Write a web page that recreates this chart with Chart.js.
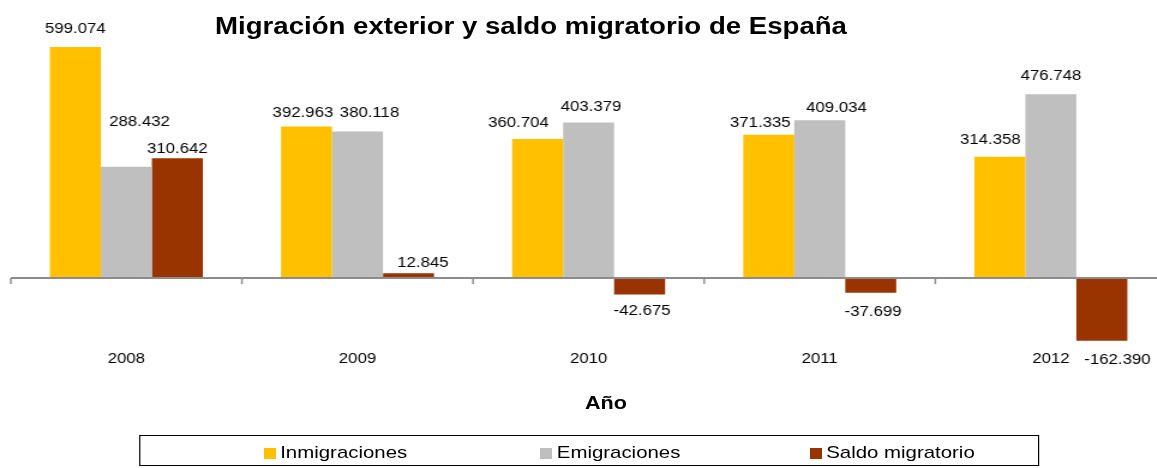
<!DOCTYPE html>
<html lang="es">
<head>
<meta charset="utf-8">
<title>Migración exterior y saldo migratorio de España</title>
<script src="https://cdn.jsdelivr.net/npm/chart.js@4"></script>
<style>
  html, body { margin: 0; padding: 0; background: #fff; overflow: hidden; }
  /* el original está estirado en horizontal, así que todo se dibuja en un
     escenario más estrecho y se estira con scaleX */
  #stage {
    position: relative; width: 972px; height: 468px;
    transform: scaleX(1.2); transform-origin: 0 0;
    font-family: "Liberation Sans", Arial, sans-serif; color: #000;
  }
  #chart { position: absolute; left: 0; top: 0; }
  #title {
    position: absolute; left: 0; width: 885px; top: 12px;
    text-align: center; font-weight: bold; font-size: 23px; line-height: 28px;
  }
  #axis-title {
    position: absolute; left: 0; width: 1010px; top: 392px;
    text-align: center; font-weight: bold; font-size: 18px; line-height: 22px;
  }
  #legend {
    position: absolute; left: 116px; top: 435px; width: 750px; height: 31px;
    border: 1.5px solid #000; box-sizing: border-box;
  }
  .leg-item {
    position: absolute; top: 7px; height: 20px; white-space: nowrap;
    font-size: 17px; line-height: 20px;
  }
  .leg-item i {
    display: inline-block; width: 10px; height: 11px; margin-right: 4px;
    vertical-align: -1px;
  }
</style>
</head>
<body>
<div id="stage">
  <canvas id="chart" width="972" height="378"></canvas>
  <div id="title">Migración exterior y saldo migratorio de España</div>
  <div id="axis-title">Año</div>
  <div id="legend"></div>
</div>
<script>
/* ── Datos ───────────────────────────────────────────────── */

const years = ['2008', '2009', '2010', '2011', '2012'];
const inmigraciones = [599074, 392963, 360704, 371335, 314358];
const emigraciones = [288432, 380118, 403379, 409034, 476748];
const saldoMigratorio = [310642, 12845, -42675, -37699, -162390];

const seriesNames = ['Inmigraciones', 'Emigraciones', 'Saldo migratorio'];
const seriesColors = ['#FFC000', '#BFBFBF', '#993300'];

// ajustes a mano de las etiquetas de valor [dx, dy], como en el original
const labelNudges = [
  [[0, -4], [-3, 1], [-16, -2], [-7, 2], [-8, -3]],
  [[11, -31], [10, -4], [2, -1], [14, 2], [0, -4]],
  [[0, 5], [12, 4], [2, -1], [2, 1], [13, 1]],
];

/* ── Helpers ─────────────────────────────────────────────── */

function formatEs(v) {
  const s = String(Math.abs(v)).replace(/\B(?=(\d{3})+(?!\d))/g, '.');
  return (v < 0 ? '-' : '') + s;
}

const FONT = '"Liberation Sans", Arial, sans-serif';

/* ── Plugins ─────────────────────────────────────────────── */

// eje en el cero con marcas entre categorías
const zeroAxis = {
  id: 'zeroAxis',
  afterDatasetsDraw(chart) {
    const { ctx, chartArea, scales: { x, y } } = chart;
    const y0 = y.getPixelForValue(0);
    ctx.save();
    ctx.strokeStyle = '#8C8C8C';
    ctx.lineWidth = 2;
    ctx.beginPath();
    ctx.moveTo(chartArea.left, y0);
    ctx.lineTo(chartArea.right, y0);
    ctx.stroke();
    ctx.lineWidth = 1.5;
    for (let i = 0; i <= years.length; i++) {
      const xp = x.getPixelForValue(i - 0.5);
      ctx.beginPath();
      ctx.moveTo(xp, y0);
      ctx.lineTo(xp, y0 + 6);
      ctx.stroke();
    }
    ctx.restore();
  },
};

// etiquetas de valor sobre / bajo cada barra
const valueLabels = {
  id: 'valueLabels',
  afterDatasetsDraw(chart) {
    const { ctx } = chart;
    ctx.save();
    ctx.font = '14px ' + FONT;
    ctx.fillStyle = '#000';
    ctx.textAlign = 'center';
    ctx.textBaseline = 'middle';
    chart.data.datasets.forEach((ds, di) => {
      chart.getDatasetMeta(di).data.forEach((bar, i) => {
        const v = ds.data[i];
        const [dx, dy] = labelNudges[di][i];
        const ty = v >= 0 ? bar.y - 14 : bar.y + 18;
        ctx.fillText(formatEs(v), bar.x + dx, ty + dy);
      });
    });
    ctx.restore();
  },
};

/* ── Gráfico ─────────────────────────────────────────────── */

const seriesData = [inmigraciones, emigraciones, saldoMigratorio];

new Chart(document.getElementById('chart'), {
  type: 'bar',
  data: {
    labels: years,
    datasets: seriesData.map((data, i) => ({
      label: seriesNames[i],
      data,
      backgroundColor: seriesColors[i],
      borderWidth: 0,
      categoryPercentage: 0.662,
      barPercentage: 1,
    })),
  },
  options: {
    responsive: false,
    animation: false,
    devicePixelRatio: 1,
    layout: { padding: { left: 9, right: 0, top: 8, bottom: 3.5 } },
    plugins: {
      legend: { display: false },
      title: { display: false },
      tooltip: { enabled: false },
    },
    scales: {
      x: {
        grid: { display: false, drawTicks: false },
        border: { display: false },
        ticks: {
          color: '#000',
          padding: 7,
          maxRotation: 0,
          font: { family: FONT, size: 14 },
        },
      },
      y: {
        display: false,
        min: -170000,
        max: 700000,
      },
    },
  },
  plugins: [zeroAxis, valueLabels],
});

/* ── Leyenda ─────────────────────────────────────────────── */

const legendLeft = [102.5, 333, 557.5];
const legendEl = document.getElementById('legend');
seriesNames.forEach((name, i) => {
  const item = document.createElement('span');
  item.className = 'leg-item';
  item.style.left = legendLeft[i] + 'px';
  const sw = document.createElement('i');
  sw.style.background = seriesColors[i];
  item.appendChild(sw);
  item.appendChild(document.createTextNode(name));
  legendEl.appendChild(item);
});
</script>
</body>
</html>
